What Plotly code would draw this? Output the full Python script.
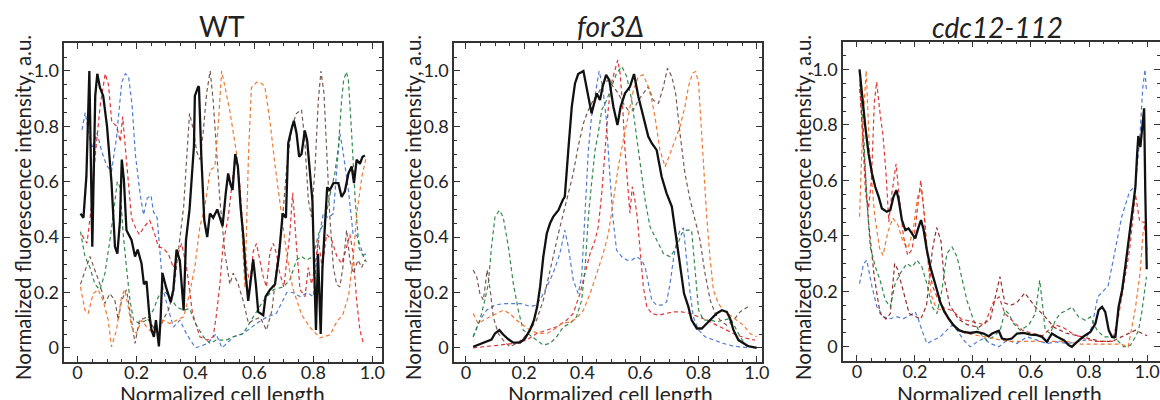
import plotly.graph_objects as go

# ---------------- data ----------------
tick_vals = [0, 0.2, 0.4, 0.6, 0.8, 1.0]
tick_text = ["0", "0.2", "0.4", "0.6", "0.8", "1.0"]
panel_titles = ["WT", "<i>for3Δ</i>", "<i>cdc12-112</i>"]
x_title = "Normalized cell length"
y_title = "Normalized fluorescence intensity, a.u."

# ---- WT ----
wt_black_x = [0.01,0.02,0.03,0.04,0.05,0.06,0.067,0.076,0.087,0.10,0.115,0.127,0.135,0.144,0.15,0.157,0.166,0.183,0.195,0.204,0.217,0.225,0.234,0.243,0.251,0.259,0.266,0.27,0.276,0.282,0.288,0.30,0.316,0.325,0.336,0.347,0.356,0.36,0.368,0.38,0.395,0.398,0.41,0.412,0.42,0.43,0.44,0.449,0.46,0.474,0.483,0.492,0.503,0.511,0.519,0.526,0.535,0.544,0.553,0.562,0.571,0.579,0.585,0.596,0.605,0.613,0.63,0.638,0.653,0.67,0.684,0.696,0.707,0.715,0.726,0.734,0.743,0.752,0.76,0.771,0.779,0.788,0.797,0.802,0.809,0.816,0.825,0.831,0.838,0.847,0.856,0.868,0.885,0.896,0.907,0.919,0.93,0.938,0.947,0.958,0.967,0.975]
wt_black_y = [0.485,0.47,0.62,1.0,0.365,0.91,0.99,0.94,0.91,0.80,0.60,0.365,0.34,0.46,0.68,0.61,0.425,0.39,0.33,0.355,0.305,0.23,0.24,0.125,0.065,0.04,0.10,0.05,0.005,0.11,0.27,0.22,0.165,0.21,0.355,0.315,0.17,0.135,0.39,0.50,0.73,0.91,0.945,0.94,0.69,0.46,0.40,0.485,0.47,0.50,0.47,0.44,0.56,0.63,0.59,0.57,0.70,0.655,0.51,0.41,0.26,0.17,0.22,0.32,0.23,0.13,0.118,0.185,0.21,0.23,0.34,0.485,0.47,0.74,0.79,0.82,0.775,0.69,0.70,0.785,0.75,0.63,0.53,0.32,0.065,0.34,0.05,0.29,0.41,0.58,0.57,0.595,0.595,0.545,0.565,0.63,0.655,0.595,0.68,0.665,0.69,0.695]
wt_blue_x = [0.015,0.026,0.037,0.049,0.066,0.082,0.098,0.115,0.132,0.15,0.162,0.173,0.185,0.196,0.213,0.224,0.236,0.249,0.258,0.27,0.29,0.325,0.347,0.37,0.40,0.44,0.47,0.49,0.53,0.56,0.61,0.64,0.675,0.71,0.73,0.755,0.78,0.80,0.817,0.834,0.85,0.868,0.88,0.89,0.90,0.919,0.935,0.947,0.97,0.98]
wt_blue_y = [0.787,0.85,0.78,0.72,0.776,0.71,0.66,0.636,0.758,0.96,0.99,0.98,0.877,0.70,0.55,0.48,0.54,0.55,0.49,0.47,0.21,0.075,0.10,0.05,0.0,0.015,0.05,0.0,0.04,0.05,0.09,0.11,0.125,0.2,0.2,0.185,0.2,0.185,0.39,0.485,0.47,0.485,0.65,0.775,0.715,0.57,0.41,0.407,0.335,0.34]
wt_red_x = [0.015,0.032,0.049,0.06,0.077,0.094,0.105,0.116,0.133,0.145,0.153,0.16,0.172,0.183,0.2,0.21,0.228,0.245,0.262,0.274,0.29,0.308,0.325,0.338,0.353,0.37,0.38,0.39,0.415,0.44,0.46,0.47,0.483,0.494,0.511,0.528,0.54,0.551,0.562,0.574,0.585,0.596,0.607,0.618,0.63,0.641,0.653,0.664,0.675,0.686,0.70,0.72,0.73,0.743,0.755,0.772,0.783,0.794,0.805,0.817,0.83,0.845,0.862,0.88,0.896,0.907,0.924,0.935,0.947,0.958,0.97]
wt_red_y = [0.407,0.378,0.528,0.696,0.877,0.99,0.95,0.816,0.80,0.745,0.835,0.75,0.58,0.47,0.425,0.41,0.44,0.46,0.41,0.365,0.36,0.34,0.29,0.33,0.377,0.29,0.21,0.125,0.04,0.028,0.04,0.11,0.23,0.377,0.47,0.63,0.69,0.58,0.41,0.29,0.23,0.347,0.377,0.317,0.257,0.22,0.347,0.377,0.34,0.27,0.22,0.41,0.56,0.365,0.21,0.185,0.29,0.23,0.29,0.39,0.29,0.41,0.39,0.33,0.305,0.34,0.41,0.34,0.17,0.065,0.015]
wt_green_x = [0.01,0.025,0.042,0.059,0.076,0.093,0.11,0.127,0.135,0.144,0.155,0.166,0.178,0.19,0.21,0.234,0.257,0.274,0.29,0.313,0.336,0.36,0.38,0.40,0.427,0.45,0.47,0.505,0.528,0.562,0.596,0.63,0.664,0.698,0.72,0.743,0.76,0.777,0.80,0.817,0.84,0.856,0.873,0.885,0.896,0.903,0.912,0.919,0.93,0.942,0.955,0.97,0.98]
wt_green_y = [0.42,0.33,0.29,0.23,0.21,0.27,0.39,0.53,0.60,0.58,0.41,0.29,0.17,0.10,0.088,0.10,0.136,0.184,0.21,0.184,0.148,0.136,0.142,0.088,0.04,0.016,0.028,0.028,0.04,0.052,0.11,0.17,0.21,0.22,0.245,0.317,0.33,0.317,0.33,0.41,0.46,0.55,0.63,0.726,0.895,0.967,0.997,0.967,0.775,0.534,0.36,0.33,0.31]
wt_brown_x = [0.01,0.025,0.042,0.059,0.076,0.093,0.11,0.127,0.138,0.149,0.166,0.183,0.195,0.21,0.234,0.257,0.274,0.29,0.308,0.325,0.342,0.36,0.37,0.38,0.393,0.404,0.415,0.426,0.438,0.45,0.46,0.472,0.483,0.50,0.517,0.528,0.545,0.562,0.58,0.596,0.62,0.641,0.66,0.675,0.693,0.71,0.727,0.743,0.76,0.771,0.783,0.794,0.806,0.817,0.826,0.836,0.845,0.856,0.868,0.879,0.89,0.90,0.913,0.924,0.935,0.952,0.964,0.975]
wt_brown_y = [0.23,0.28,0.33,0.28,0.23,0.16,0.196,0.17,0.10,0.17,0.21,0.10,0.016,0.10,0.11,0.076,0.052,0.10,0.136,0.196,0.34,0.51,0.68,0.847,0.787,0.71,0.68,0.775,0.92,1.0,0.895,0.715,0.534,0.34,0.23,0.27,0.23,0.17,0.088,0.10,0.11,0.064,0.136,0.29,0.437,0.654,0.80,0.847,0.86,0.75,0.534,0.473,0.654,0.895,1.0,0.92,0.715,0.473,0.29,0.23,0.22,0.29,0.425,0.317,0.27,0.317,0.29,0.317]
wt_orange_x = [0.01,0.025,0.036,0.053,0.07,0.087,0.104,0.115,0.132,0.149,0.16,0.172,0.183,0.2,0.217,0.234,0.257,0.274,0.29,0.313,0.336,0.36,0.38,0.398,0.415,0.432,0.45,0.466,0.477,0.489,0.5,0.517,0.54,0.55,0.562,0.568,0.58,0.59,0.608,0.625,0.636,0.653,0.67,0.687,0.71,0.73,0.76,0.79,0.823,0.857,0.88,0.90,0.92,0.936,0.948,0.965,0.98]
wt_orange_y = [0.22,0.136,0.124,0.196,0.21,0.17,0.10,0.004,0.064,0.184,0.21,0.148,0.076,0.052,0.10,0.076,0.052,0.064,0.10,0.088,0.10,0.112,0.196,0.293,0.437,0.51,0.642,0.654,0.80,1.0,0.943,0.853,0.70,0.58,0.336,0.216,0.70,0.94,0.96,0.955,0.94,0.817,0.66,0.516,0.336,0.216,0.12,0.072,0.036,0.047,0.095,0.12,0.19,0.336,0.49,0.62,0.69]

# ---- for3 deletion ----
f3_black_x = [0.025,0.048,0.071,0.088,0.10,0.115,0.128,0.146,0.163,0.186,0.203,0.22,0.234,0.245,0.255,0.266,0.278,0.289,0.30,0.318,0.333,0.34,0.352,0.364,0.375,0.386,0.404,0.417,0.432,0.444,0.45,0.461,0.47,0.482,0.493,0.507,0.521,0.532,0.547,0.564,0.578,0.593,0.61,0.627,0.639,0.656,0.673,0.69,0.708,0.725,0.736,0.75,0.765,0.776,0.794,0.811,0.828,0.845,0.862,0.88,0.897,0.908,0.92,0.937,0.954,0.971,1.0]
f3_black_y = [0.004,0.013,0.022,0.03,0.052,0.064,0.048,0.031,0.019,0.019,0.034,0.064,0.1,0.148,0.22,0.329,0.413,0.449,0.473,0.497,0.534,0.546,0.714,0.871,0.955,0.989,1.0,0.931,0.847,0.895,0.919,0.895,0.943,0.986,0.967,0.871,0.805,0.871,0.919,0.943,0.989,0.907,0.835,0.763,0.739,0.714,0.618,0.558,0.51,0.389,0.293,0.196,0.148,0.1,0.07,0.07,0.088,0.106,0.124,0.136,0.13,0.106,0.064,0.028,0.016,0.006,0.0]
f3_green_x = [0.025,0.048,0.065,0.077,0.088,0.10,0.115,0.128,0.146,0.163,0.18,0.197,0.22,0.243,0.266,0.289,0.312,0.335,0.358,0.38,0.398,0.41,0.421,0.432,0.444,0.455,0.467,0.484,0.50,0.518,0.536,0.553,0.57,0.585,0.599,0.616,0.633,0.656,0.679,0.702,0.725,0.742,0.759,0.776,0.788,0.80,0.817,0.84,0.862,0.885,0.908,0.925,0.943,0.966]
f3_green_y = [0.04,0.1,0.172,0.232,0.365,0.473,0.497,0.473,0.365,0.232,0.136,0.064,0.046,0.028,0.01,0.016,0.04,0.076,0.088,0.112,0.172,0.293,0.473,0.594,0.714,0.775,0.859,0.895,0.943,0.992,1.016,0.98,0.895,0.775,0.654,0.534,0.437,0.389,0.341,0.329,0.365,0.413,0.425,0.425,0.293,0.136,0.1,0.1,0.094,0.1,0.106,0.076,0.04,0.004]
f3_blue_x = [0.025,0.048,0.071,0.10,0.128,0.163,0.19,0.22,0.243,0.26,0.278,0.30,0.323,0.34,0.352,0.369,0.386,0.398,0.41,0.421,0.432,0.444,0.458,0.47,0.482,0.493,0.505,0.518,0.536,0.553,0.57,0.587,0.604,0.616,0.627,0.639,0.656,0.673,0.69,0.702,0.713,0.725,0.736,0.748,0.759,0.771,0.782,0.80,0.822,0.851,0.885,0.92,0.954,0.977]
f3_blue_y = [0.04,0.1,0.136,0.154,0.16,0.16,0.16,0.15,0.154,0.184,0.22,0.27,0.34,0.425,0.365,0.245,0.196,0.257,0.473,0.714,0.835,0.919,1.0,0.943,0.835,0.654,0.473,0.353,0.329,0.317,0.317,0.329,0.317,0.293,0.232,0.172,0.154,0.154,0.166,0.232,0.317,0.389,0.425,0.432,0.317,0.196,0.112,0.064,0.04,0.028,0.016,0.006,0.004,0.0]
f3_red_x = [0.025,0.071,0.117,0.163,0.209,0.243,0.278,0.312,0.346,0.369,0.392,0.41,0.427,0.444,0.455,0.467,0.478,0.49,0.50,0.513,0.522,0.53,0.539,0.547,0.555,0.564,0.572,0.581,0.589,0.599,0.61,0.622,0.639,0.662,0.685,0.713,0.742,0.771,0.80,0.828,0.862,0.897,0.931,0.966,0.994]
f3_red_y = [0.0,0.004,0.01,0.016,0.028,0.052,0.064,0.076,0.1,0.124,0.196,0.269,0.341,0.389,0.437,0.558,0.714,0.871,0.955,1.004,1.04,0.992,0.871,0.714,0.594,0.486,0.582,0.534,0.473,0.341,0.22,0.148,0.124,0.118,0.124,0.13,0.13,0.124,0.112,0.1,0.082,0.064,0.046,0.034,0.028]
f3_orange_x = [0.025,0.042,0.06,0.083,0.105,0.128,0.151,0.174,0.197,0.22,0.249,0.278,0.30,0.329,0.358,0.38,0.404,0.427,0.45,0.472,0.49,0.507,0.524,0.541,0.558,0.576,0.593,0.61,0.627,0.639,0.65,0.667,0.685,0.702,0.719,0.736,0.753,0.765,0.779,0.79,0.80,0.807,0.817,0.828,0.84,0.851,0.868,0.885,0.908,0.931,0.954,0.977,1.0]
f3_orange_y = [0.124,0.088,0.1,0.112,0.124,0.136,0.124,0.1,0.082,0.064,0.052,0.052,0.064,0.088,0.094,0.106,0.136,0.196,0.269,0.341,0.413,0.534,0.654,0.75,0.835,0.931,0.98,0.986,0.943,0.895,0.835,0.714,0.654,0.702,0.75,0.799,0.871,0.943,0.992,0.998,0.955,0.835,0.654,0.473,0.317,0.208,0.16,0.136,0.118,0.1,0.082,0.052,0.04]
f3_brown_x = [0.025,0.037,0.048,0.06,0.073,0.085,0.094,0.111,0.128,0.151,0.174,0.197,0.22,0.243,0.266,0.283,0.30,0.318,0.335,0.352,0.369,0.386,0.404,0.421,0.438,0.455,0.472,0.49,0.507,0.524,0.541,0.558,0.576,0.593,0.61,0.627,0.644,0.662,0.679,0.693,0.708,0.721,0.736,0.753,0.771,0.788,0.805,0.822,0.84,0.857,0.874,0.897,0.92,0.943,0.96,0.977]
f3_brown_y = [0.281,0.257,0.196,0.172,0.281,0.196,0.112,0.052,0.028,0.004,0.016,0.034,0.064,0.1,0.172,0.245,0.329,0.413,0.486,0.558,0.63,0.727,0.811,0.859,0.895,0.919,0.955,0.967,0.943,0.919,0.883,0.859,0.859,0.895,0.919,0.943,0.895,0.883,0.943,1.01,0.98,0.919,0.775,0.63,0.534,0.461,0.389,0.269,0.172,0.124,0.1,0.082,0.1,0.13,0.142,0.154]

# ---- cdc12-112 ----
cd_black_x = [0.009,0.017,0.029,0.04,0.052,0.063,0.075,0.086,0.103,0.115,0.126,0.136,0.144,0.155,0.167,0.178,0.19,0.201,0.213,0.221,0.23,0.241,0.253,0.264,0.276,0.287,0.299,0.316,0.333,0.351,0.368,0.391,0.414,0.437,0.454,0.466,0.477,0.489,0.5,0.517,0.534,0.552,0.575,0.598,0.621,0.638,0.655,0.672,0.69,0.713,0.73,0.741,0.759,0.782,0.805,0.822,0.833,0.845,0.856,0.868,0.879,0.891,0.902,0.914,0.925,0.937,0.948,0.96,0.966,0.97,0.977,0.983,0.99,0.994,0.999]
cd_black_y = [1.0,0.913,0.793,0.697,0.625,0.577,0.541,0.499,0.487,0.493,0.541,0.565,0.529,0.457,0.421,0.427,0.409,0.391,0.433,0.457,0.421,0.349,0.288,0.252,0.204,0.162,0.132,0.102,0.078,0.06,0.054,0.05,0.054,0.048,0.038,0.048,0.054,0.058,0.03,0.026,0.03,0.048,0.05,0.044,0.042,0.036,0.018,0.048,0.036,0.024,0.006,0.0,0.018,0.038,0.054,0.084,0.132,0.144,0.126,0.06,0.036,0.036,0.144,0.204,0.288,0.385,0.481,0.577,0.697,0.76,0.72,0.8,0.86,0.56,0.28]
cd_red_x = [0.01,0.02,0.03,0.04,0.05,0.06,0.068,0.08,0.09,0.10,0.11,0.12,0.135,0.145,0.16,0.175,0.19,0.20,0.21,0.22,0.23,0.24,0.26,0.28,0.30,0.33,0.36,0.40,0.44,0.47,0.49,0.51,0.54,0.57,0.60,0.64,0.68,0.71,0.74,0.78,0.82,0.85,0.88,0.90,0.92,0.94,0.96,0.975,0.99,1.0]
cd_red_y = [0.95,0.75,0.55,0.5,0.6,0.88,0.955,0.84,0.76,0.63,0.45,0.55,0.66,0.55,0.40,0.33,0.35,0.42,0.50,0.60,0.50,0.35,0.22,0.17,0.14,0.13,0.10,0.09,0.08,0.16,0.18,0.12,0.09,0.06,0.05,0.04,0.08,0.07,0.05,0.03,0.02,0.02,0.02,0.10,0.22,0.35,0.55,0.45,0.45,0.35]
cd_maroon_x = [0.01,0.025,0.04,0.06,0.08,0.10,0.115,0.13,0.14,0.16,0.18,0.20,0.22,0.24,0.26,0.275,0.29,0.30,0.32,0.35,0.38,0.42,0.46,0.493,0.51,0.53,0.55,0.579,0.614,0.648,0.68,0.72,0.76,0.80,0.84,0.88,0.92,0.96,1.0]
cd_maroon_y = [0.93,0.70,0.45,0.25,0.12,0.10,0.12,0.30,0.28,0.20,0.12,0.11,0.10,0.15,0.35,0.43,0.38,0.25,0.15,0.10,0.08,0.07,0.10,0.253,0.158,0.15,0.158,0.194,0.145,0.109,0.07,0.05,0.04,0.03,0.02,0.02,0.04,0.06,0.04]
cd_orange_x = [0.009,0.02,0.032,0.044,0.061,0.078,0.09,0.107,0.124,0.141,0.159,0.176,0.193,0.21,0.222,0.233,0.245,0.256,0.273,0.296,0.33,0.37,0.42,0.47,0.52,0.57,0.62,0.67,0.72,0.77,0.82,0.87,0.91,0.935,0.959,0.976,0.987,0.995]
cd_orange_y = [0.469,0.8,0.996,0.69,0.475,0.356,0.33,0.415,0.464,0.44,0.379,0.356,0.415,0.547,0.57,0.475,0.307,0.187,0.14,0.13,0.08,0.05,0.04,0.03,0.02,0.02,0.02,0.02,0.02,0.01,0.01,0.01,0.01,0.0,0.133,0.266,0.42,0.446]
cd_green_x = [0.009,0.023,0.034,0.046,0.063,0.08,0.098,0.115,0.132,0.149,0.172,0.19,0.207,0.224,0.241,0.259,0.276,0.293,0.31,0.328,0.345,0.362,0.379,0.402,0.425,0.448,0.471,0.494,0.511,0.523,0.54,0.563,0.592,0.615,0.63,0.638,0.649,0.667,0.684,0.701,0.724,0.741,0.764,0.787,0.805,0.828,0.851,0.874,0.897,0.92,0.943,0.96,0.971,0.983,0.991,0.998]
cd_green_y = [0.99,0.77,0.53,0.36,0.29,0.24,0.168,0.144,0.228,0.264,0.30,0.288,0.3125,0.288,0.228,0.144,0.12,0.204,0.337,0.36,0.325,0.252,0.168,0.096,0.048,0.024,0.036,0.06,0.132,0.12,0.084,0.06,0.078,0.12,0.24,0.168,0.06,0.048,0.096,0.12,0.132,0.144,0.108,0.096,0.108,0.06,0.036,0.036,0.024,0.0,0.006,0.036,0.06,0.132,0.204,0.252]
cd_blue_x = [0.009,0.023,0.034,0.052,0.069,0.092,0.115,0.138,0.161,0.184,0.201,0.213,0.224,0.241,0.264,0.287,0.31,0.328,0.345,0.368,0.391,0.414,0.437,0.46,0.489,0.517,0.552,0.586,0.621,0.655,0.69,0.724,0.759,0.787,0.81,0.83,0.866,0.89,0.913,0.94,0.96,0.975,0.985,0.993,0.998]
cd_blue_y = [0.228,0.30,0.3125,0.216,0.144,0.108,0.102,0.108,0.102,0.114,0.126,0.096,0.06,0.012,0.024,0.036,0.06,0.078,0.06,0.024,0.0,0.018,0.03,0.012,0.0,0.024,0.012,0.036,0.024,0.012,0.018,0.012,0.018,0.024,0.072,0.18,0.22,0.35,0.47,0.56,0.58,0.75,0.93,1.0,0.92]

# ---------------- figure ----------------
W, H = 1160, 400
C = dict(black="#111111", blue="#3f6fd0", red="#dd2222", green="#1f7f3a",
         brown="#6a4a40", orange="#f26b1d", maroon="#8a1414")

panels = [
    dict(title=panel_titles[0], px=(64.3, 381.7), py=(43.3, 361.7), xr=(-0.045, 1.032),
         tx=222, ty=26, ytx=23, xtx=222,
         series=[("blue", wt_blue_x, wt_blue_y), ("red", wt_red_x, wt_red_y),
                 ("green", wt_green_x, wt_green_y), ("brown", wt_brown_x, wt_brown_y),
                 ("orange", wt_orange_x, wt_orange_y), ("black", wt_black_x, wt_black_y)]),
    dict(title=panel_titles[1], px=(454, 761.7), py=(43.3, 361.7), xr=(-0.041, 1.017),
         tx=610, ty=26, ytx=413, xtx=610,
         series=[("blue", f3_blue_x, f3_blue_y), ("red", f3_red_x, f3_red_y),
                 ("green", f3_green_x, f3_green_y), ("brown", f3_brown_x, f3_brown_y),
                 ("orange", f3_orange_x, f3_orange_y), ("black", f3_black_x, f3_black_y)]),
    dict(title=panel_titles[2], px=(843, 1159.5), py=(41.7, 360.7), xr=(-0.048, 1.043),
         tx=997, ty=27, ytx=803, xtx=1000,
         series=[("blue", cd_blue_x, cd_blue_y), ("maroon", cd_maroon_x, cd_maroon_y),
                 ("green", cd_green_x, cd_green_y), ("orange", cd_orange_x, cd_orange_y),
                 ("red", cd_red_x, cd_red_y), ("black", cd_black_x, cd_black_y)]),
]

FONT = "Lato, Open Sans, sans-serif"
fig = go.Figure()
layout = dict(width=W, height=H, margin=dict(l=0, r=0, t=0, b=0, pad=0),
              paper_bgcolor="white", plot_bgcolor="white", showlegend=False,
              font=dict(family=FONT, color="#222"))
annotations = []

for i, p in enumerate(panels):
    n = "" if i == 0 else str(i + 1)
    xa, ya = "x" + n, "y" + n
    for col, xs, ys in p["series"]:
        if col == "black":
            line = dict(color=C[col], width=2.3)
        else:
            line = dict(color=C[col], width=1.2, dash="4px,3px")
        fig.add_trace(go.Scatter(x=xs, y=ys, mode="lines", line=line, opacity=0.9 if col != "black" else 1,
                                 xaxis=xa, yaxis=ya, hoverinfo="skip"))
    axis_common = dict(showline=True, linecolor="#333", linewidth=1.5, mirror="allticks",
                       ticks="inside", ticklen=6, tickwidth=1.2, tickcolor="#333",
                       showgrid=False, zeroline=False, automargin=False,
                       tickvals=tick_vals, ticktext=tick_text,
                       tickfont=dict(size=18, family=FONT, color="#222"),
                       minor=dict(tickmode="linear", tick0=0, dtick=0.05, ticks="inside",
                                  ticklen=3, tickwidth=1, tickcolor="#333", showgrid=False))
    layout["xaxis" + n] = dict(axis_common, domain=[p["px"][0] / W, p["px"][1] / W],
                               range=list(p["xr"]), anchor=ya, ticklabelstandoff=-6)
    layout["yaxis" + n] = dict(axis_common, domain=[1 - p["py"][1] / H, 1 - p["py"][0] / H],
                               range=[-0.05, 1.10], anchor=xa)
    annotations.append(dict(text=p["title"], x=p["tx"] / W, y=1 - p["ty"] / H,
                            xref="paper", yref="paper", showarrow=False,
                            xanchor="center", yanchor="middle",
                            font=dict(size=28, family=FONT, color="#222")))
    annotations.append(dict(text=y_title, x=p["ytx"] / W, y=1 - 208 / H, textangle=-90,
                            xref="paper", yref="paper", showarrow=False,
                            xanchor="center", yanchor="middle",
                            font=dict(size=20.5, family=FONT, color="#222")))
    annotations.append(dict(text=x_title, x=p["xtx"] / W, y=1 - 393 / H,
                            xref="paper", yref="paper", showarrow=False,
                            xanchor="center", yanchor="middle",
                            font=dict(size=21, family=FONT, color="#222")))

layout["annotations"] = annotations
fig.update_layout(**layout)
fig.write_html("out.html", config={"displayModeBar": False},
               post_script="document.body.style.margin='0';")
